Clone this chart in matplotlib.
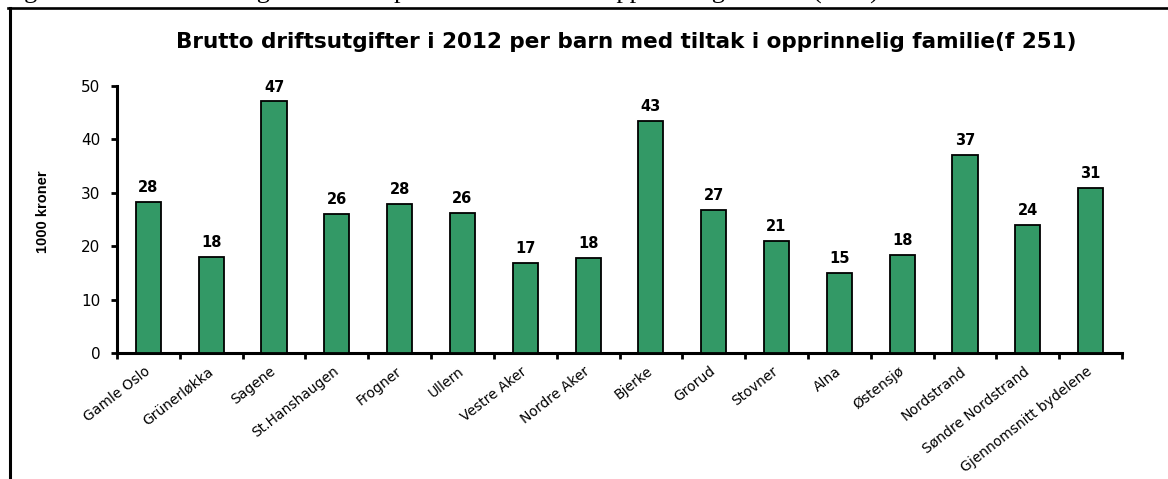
import matplotlib
matplotlib.use("Agg")
import matplotlib.pyplot as plt
from matplotlib.lines import Line2D
import numpy as np

# Brutto driftsutgifter per barn (1000 kr), f 251
bydeler = ["Gamle Oslo", "Grünerløkka", "Sagene", "St.Hanshaugen", "Frogner",
           "Ullern", "Vestre Aker", "Nordre Aker", "Bjerke", "Grorud",
           "Stovner", "Alna", "Østensjø", "Nordstrand", "Søndre Nordstrand",
           "Gjennomsnitt bydelene"]
utgifter = [28.3, 18.0, 47.1, 26.0, 27.9, 26.3, 16.9, 17.8, 43.4, 26.8,
            20.9, 14.9, 18.3, 37.1, 24.0, 30.9]
y_ticks = [0, 10, 20, 30, 40, 50]

plt.rcParams["font.family"] = ["DejaVu Sans"]

W, H = 1168, 479
fig = plt.figure(figsize=(W / 100, H / 100), dpi=100)

# ramme rundt figuren (topplinje og venstre kant)
fig.add_artist(Line2D([8 / W, 1], [1 - 8 / H, 1 - 8 / H], color="black", lw=1.9,
                      transform=fig.transFigure))
fig.add_artist(Line2D([10 / W, 10 / W], [0, 1 - 8 / H], color="black", lw=2.2,
                      transform=fig.transFigure))

# figurtekst over rammen, delvis utenfor kanten
fig.text(2 / W, 1 + 1 / H,
         "Figur 33: Brutto driftsutgifter i 2012 pr barn med tiltak i opprinnelig familie (f251)",
         family=["Liberation Serif", "DejaVu Serif"], fontsize=19,
         ha="left", va="baseline")

fig.text(626 / W, 1 - 42 / H,
         "Brutto driftsutgifter i 2012 per barn med tiltak i opprinnelig familie(f 251)",
         fontsize=15.5, fontweight="bold", ha="center", va="center")

ax = fig.add_axes([117 / W, (H - 353) / H, 1005 / W, 267 / H])
x = np.arange(len(bydeler))
bars = ax.bar(x, utgifter, width=0.4, color="#339966", edgecolor="black",
              linewidth=1.3, zorder=3)

for xi, v in zip(x, utgifter):
    ax.annotate(f"{round(v)}", (xi, v), xytext=(0, 5), textcoords="offset points",
                ha="center", va="bottom", fontsize=10.5, fontweight="bold")

ax.set_xlim(-0.5, len(bydeler) - 0.5)
ax.set_ylim(0, 50)
ax.set_yticks(y_ticks)
ax.tick_params(axis="y", direction="out", length=4, width=2, labelsize=11, pad=8)

ax.set_xticks(x)
ax.set_xticklabels(bydeler, rotation=38, ha="right", va="center",
                   rotation_mode="anchor", fontsize=10)
ax.tick_params(axis="x", which="major", length=0, pad=12)
ax.set_xticks(np.arange(-0.5, len(bydeler)), minor=True)
ax.tick_params(axis="x", which="minor", direction="out", length=4, width=2)

for side in ("top", "right"):
    ax.spines[side].set_visible(False)
for side in ("left", "bottom"):
    ax.spines[side].set_linewidth(2.2)

fig.text(43 / W, 1 - 212 / H, "1000 kroner", rotation=90,
         family=["Liberation Sans Narrow", "Liberation Sans"],
         fontsize=10.5, fontweight="bold", ha="center", va="center")

fig.savefig("out.png", dpi=100)
